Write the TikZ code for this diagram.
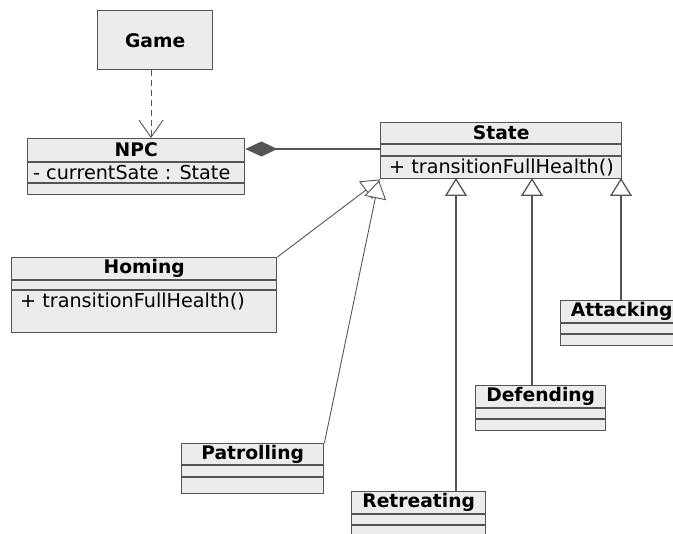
\documentclass[tikz,border=0pt]{standalone}
\usepackage{fontspec}
\setmainfont{DejaVu Sans}
\usetikzlibrary{arrows.meta}
\definecolor{boxfill}{HTML}{ECECEC}
\definecolor{boxline}{HTML}{555555}
\begin{document}
\begin{tikzpicture}[x=1pt,y=-1pt,
  box/.style={draw=boxline, fill=boxfill, line width=1.4pt, rectangle, anchor=north west, inner sep=0pt},
  rowline/.style={draw=boxline, line width=1.4pt},
  title/.style={font=\bfseries\fontsize{18.7}{20}\selectfont, inner sep=0pt},
  member/.style={font=\fontsize{19.2}{21}\selectfont, anchor=west, inner sep=0pt},
  conn/.style={draw=boxline, line width=1.3pt},
  thinconn/.style={draw=boxline, line width=0.9pt},
  inherit/.style={-{Triangle[length=18pt,width=22pt,fill=white]}},
]
\useasboundingbox (0,0) rectangle (673,534);
\clip (0,0) rectangle (673,534);

% Game
\node[box, minimum width=115pt, minimum height=59pt, font=\bfseries\fontsize{18.7}{20}\selectfont] (game) at (97,10) {Game};

% NPC
\node[box, minimum width=217pt, minimum height=56pt] (npc) at (27,138) {};
\draw[rowline] ([yshift=-24pt]npc.north west) -- ([yshift=-24pt]npc.north east);
\draw[rowline] ([yshift=-45pt]npc.north west) -- ([yshift=-45pt]npc.north east);
\node[title] (npct) at ([yshift=-12pt]npc.north) {NPC};
\node[member] (npca) at ([xshift=6pt,yshift=-34.5pt]npc.north west) {- currentSate : State};

% State
\node[box, minimum width=241pt, minimum height=56pt] (state) at (380,122) {};
\draw[rowline] ([yshift=-22pt]state.north west) -- ([yshift=-22pt]state.north east);
\draw[rowline] ([yshift=-34pt]state.north west) -- ([yshift=-34pt]state.north east);
\node[title] (statet) at ([yshift=-11pt]state.north) {State};
\node[member] (statem) at ([xshift=9pt,yshift=-45pt]state.north west) {+ transitionFullHealth()};

% Homing
\node[box, minimum width=265pt, minimum height=75pt] (homing) at (11,257) {};
\draw[rowline] ([yshift=-23pt]homing.north west) -- ([yshift=-23pt]homing.north east);
\draw[rowline] ([yshift=-33pt]homing.north west) -- ([yshift=-33pt]homing.north east);
\node[title] (homingt) at ([yshift=-11.5pt]homing.north) {Homing};
\node[member] (homingm) at ([xshift=9pt,yshift=-44pt]homing.north west) {+ transitionFullHealth()};

% Patrolling
\node[box, minimum width=142pt, minimum height=50pt] (patrol) at (181,443) {};
\draw[rowline] ([yshift=-22pt]patrol.north west) -- ([yshift=-22pt]patrol.north east);
\draw[rowline] ([yshift=-34pt]patrol.north west) -- ([yshift=-34pt]patrol.north east);
\node[title] (patrolt) at ([yshift=-11pt]patrol.north) {Patrolling};

% Retreating
\node[box, minimum width=134pt, minimum height=46pt] (retreat) at (351,491) {};
\draw[rowline] ([yshift=-23pt]retreat.north west) -- ([yshift=-23pt]retreat.north east);
\draw[rowline] ([yshift=-34pt]retreat.north west) -- ([yshift=-34pt]retreat.north east);
\node[title] (retreatt) at ([yshift=-11.5pt]retreat.north) {Retreating};

% Defending
\node[box, minimum width=130pt, minimum height=45pt] (defend) at (475,385) {};
\draw[rowline] ([yshift=-23pt]defend.north west) -- ([yshift=-23pt]defend.north east);
\draw[rowline] ([yshift=-34pt]defend.north west) -- ([yshift=-34pt]defend.north east);
\node[title] (defendt) at ([yshift=-11.5pt]defend.north) {Defending};

% Attacking
\node[box, minimum width=122pt, minimum height=45pt] (attack) at (560,300) {};
\draw[rowline] ([yshift=-23pt]attack.north west) -- ([yshift=-23pt]attack.north east);
\draw[rowline] ([yshift=-34pt]attack.north west) -- ([yshift=-34pt]attack.north east);
\node[title] (attackt) at ([yshift=-11.5pt]attack.north) {Attacking};

% connectors
\draw[thinconn, dash pattern=on 6pt off 4pt, -{Straight Barb[length=17pt,width=24pt]}] (game.south -| 151,0) -- (npc.north -| 151,0);
\draw[conn, {Diamond[length=32pt,width=15pt,fill=boxline]}-] (npc.east |- 0,149) -- (state.west |- 0,149);

\coordinate (sr) at (456,178);
\coordinate (sd) at (532,178);
\coordinate (sa) at (621,178);
\draw[conn, inherit] (retreat.north -| sr) -- (sr);
\draw[conn, inherit] (defend.north -| sd) -- (sd);
\draw[conn, inherit] (attack.north -| sa) -- (sa);
\draw[thinconn, inherit] (homing.north east) -- (state.south west);
\draw[thinconn, inherit] (patrol.north east) -- ([xshift=-1pt,yshift=-1pt]state.south west);
\end{tikzpicture}
\end{document}
